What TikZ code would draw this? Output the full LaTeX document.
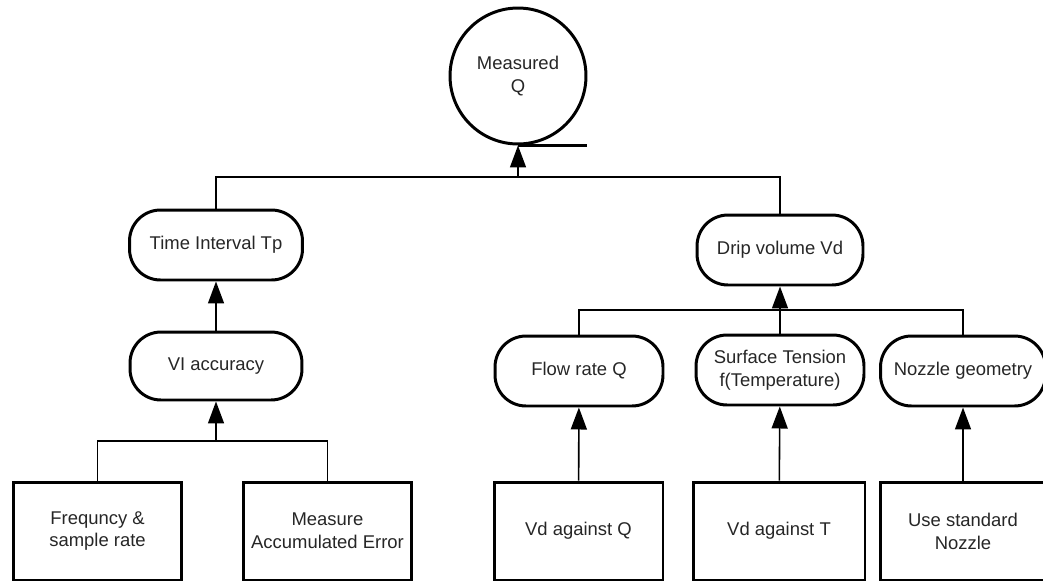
\documentclass[tikz,border=0pt]{standalone}
\usepackage{fontspec}
\setmainfont{Liberation Sans}
\usetikzlibrary{arrows.meta, positioning}
\pgfkeys{/tikz/.cd,
    overall style/.style={
        x=0.02cm, y=-0.02cm,   % 以像素为单位
        line width=0.9pt,
        >={Triangle[length=0.44cm, width=0.32cm]},
        font=\fontsize{10.5}{13}\selectfont,
        text=black!85
    },
    pill/.style={
        draw, line width=1.7pt, rectangle, rounded corners=0.62cm,
        minimum height=1.4cm, align=center, inner sep=2pt
    },
    plainbox/.style={
        draw, line width=1.7pt, rectangle,
        minimum height=1.96cm, align=center, inner sep=2pt
    },
    goal/.style={
        draw, line width=1.7pt, circle, minimum size=2.72cm, align=center
    }
}

\begin{document}
\begin{tikzpicture}[overall style]

    \useasboundingbox (0,0) rectangle (1043,582);

    % --- 1. 顶部圆 ---
    \node[goal] (mq) at (518,76) {Measured\\Q};
    \draw[line width=1.7pt] (mq.south) -- ++(69,0);

    % --- 2. 第一层 ---
    \node[pill, minimum width=3.46cm] (tp) at (216,245) {Time Interval Tp};
    \node[pill, minimum width=3.32cm] (vd) at (780,250) {Drip volume Vd};

    % --- 3. 第二层 ---
    \node[pill, minimum width=3.44cm, minimum height=1.36cm] (vi) at (216,366) {VI accuracy};
    \node[pill, minimum width=3.36cm] (fr) at (579,371) {Flow rate Q};
    \node[pill, minimum width=3.36cm] (st) at (780,370) {Surface Tension\\f(Temperature)};
    \node[pill, minimum width=3.3cm] (nz) at (963,371) {Nozzle geometry};

    % --- 4. 底层方框 ---
    \node[plainbox, minimum width=3.38cm] (fq) at (97.5,531) {Frequncy \&\\sample rate};
    \node[plainbox, minimum width=3.38cm] (me) at (327.5,531) {Measure\\Accumulated Error};
    \node[plainbox, minimum width=3.38cm] (vq) at (578.5,531) {Vd against Q};
    \node[plainbox, minimum width=3.44cm] (vt) at (779,531) {Vd against T};
    \node[plainbox, minimum width=3.32cm] (us) at (963,531) {Use standard\\Nozzle};

    % --- 5. 连线 ---
    \coordinate (barT) at (518,177);
    \coordinate (barL) at (216,441);
    \coordinate (barR) at (780,310);

    \draw (tp.north) |- (barT) -| (vd.north);
    \draw[->] (barT) -- (mq.south);

    \draw[->] (vi) -- (tp);
    \draw (fq.north) |- (barL) -| (me.north);
    \draw[->] (barL) -- (vi.south);

    \draw (fr.north) |- (barR) -| (nz.north);
    \draw (st.north) -- (barR);
    \draw[->] (barR) -- (vd.south);

    \draw[->] (vq) -- (fr);
    \draw[->] (vt) -- (st);
    \draw[->] (us) -- (nz);

\end{tikzpicture}
\end{document}
